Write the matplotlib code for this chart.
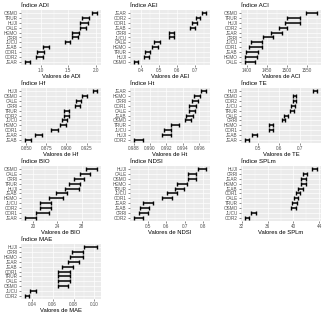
import matplotlib
matplotlib.use('Agg')
import matplotlib.pyplot as plt
from matplotlib.ticker import AutoMinorLocator
import numpy as np

plt.rcParams['font.family'] = ['Liberation Sans', 'DejaVu Sans']

# each index: sites (top to bottom), mean value, half width of the interval
adi_sites = ['OSMO', 'TRUR', 'HUJI', 'CALE', 'HEMO', 'CRRI', 'JUCU', 'JEAB', 'COR1', 'COR2', 'JEAR']
adi_mean = [1.98, 1.81, 1.79, 1.77, 1.63, 1.62, 1.49, 1.10, 1.00, 0.98, 0.76]
adi_err = [0.05, 0.06, 0.07, 0.06, 0.06, 0.05, 0.05, 0.05, 0.06, 0.06, 0.05]

aei_sites = ['JEAR', 'COR2', 'COR1', 'JEAB', 'CRRI', 'JUCU', 'CALE', 'HEMO', 'TRUR', 'HUJI', 'OSMO']
aei_mean = [0.752, 0.718, 0.700, 0.690, 0.572, 0.572, 0.490, 0.480, 0.437, 0.433, 0.374]
aei_err = [0.013, 0.013, 0.014, 0.014, 0.012, 0.012, 0.015, 0.016, 0.015, 0.015, 0.013]

aci_sites = ['OSMO', 'TRUR', 'HUJI', 'COR2', 'JEAR', 'CRRI', 'JUCU', 'COR1', 'JEAB', 'HEMO', 'CALE']
aci_mean = [1561, 1516, 1514, 1490, 1474, 1452, 1424, 1422, 1414, 1410, 1408]
aci_err = [14, 15, 18, 10, 13, 12, 14, 17, 15, 15, 12]

hf_sites = ['HUJI', 'OSMO', 'CALE', 'CRRI', 'TRUR', 'COR2', 'JUCU', 'HEMO', 'COR1', 'JEAR', 'JEAB']
hf_mean = [0.9355, 0.922, 0.915, 0.914, 0.900, 0.900, 0.898, 0.896, 0.885, 0.865, 0.852]
hf_err = [0.0030, 0.0030, 0.0030, 0.0030, 0.0030, 0.0030, 0.0030, 0.0035, 0.0040, 0.0040, 0.0040]

ht_sites = ['JEAR', 'HEMO', 'CRRI', 'COR1', 'CALE', 'JEAB', 'OSMO', 'TRUR', 'JUCU', 'HUJI', 'COR2']
ht_mean = [0.99656, 0.9957, 0.9955, 0.9952, 0.9951, 0.9948, 0.9946, 0.9930, 0.9921, 0.9920, 0.9886]
ht_err = [0.0003, 0.0004, 0.0004, 0.0004, 0.0004, 0.0004, 0.0004, 0.0005, 0.0004, 0.0005, 0.0006]

te_sites = ['HUJI', 'OSMO', 'COR2', 'JUCU', 'TRUR', 'CALE', 'CRRI', 'HEMO', 'COR1', 'JEAB', 'JEAR']
te_mean = [0.771, 0.673, 0.673, 0.665, 0.661, 0.634, 0.621, 0.561, 0.561, 0.484, 0.447]
te_err = [0.010, 0.009, 0.009, 0.009, 0.010, 0.009, 0.009, 0.010, 0.010, 0.010, 0.010]

bio_sites = ['OSMO', 'CALE', 'CRRI', 'TRUR', 'HUJI', 'JEAB', 'HEMO', 'JUCU', 'COR2', 'COR1', 'JEAR']
bio_mean = [29.7, 28.6, 27.6, 26.8, 26.4, 24.7, 23.8, 22.0, 22.0, 21.5, 19.5]
bio_err = [0.9, 0.8, 0.8, 0.9, 1.1, 0.9, 1.1, 0.9, 0.9, 1.1, 0.9]

ndsi_sites = ['HUJI', 'CALE', 'OSMO', 'HEMO', 'TRUR', 'JUCU', 'COR1', 'JEAR', 'JEAB', 'CRRI', 'COR2']
ndsi_mean = [0.796, 0.739, 0.739, 0.686, 0.671, 0.632, 0.605, 0.502, 0.484, 0.475, 0.448]
ndsi_err = [0.022, 0.022, 0.022, 0.025, 0.025, 0.027, 0.027, 0.027, 0.025, 0.025, 0.025]

splm_sites = ['HUJI', 'CRRI', 'JEAR', 'HEMO', 'JEAB', 'COR1', 'CALE', 'TRUR', 'OSMO', 'JUCU', 'COR2']
splm_mean = [43.3, 41.8, 41.6, 41.5, 41.1, 40.7, 40.4, 40.2, 40.0, 33.8, 32.8]
splm_err = [0.4, 0.35, 0.4, 0.4, 0.35, 0.35, 0.35, 0.35, 0.35, 0.35, 0.35]

mae_sites = ['HUJI', 'CRRI', 'HEMO', 'JEAR', 'JEAB', 'COR1', 'TRUR', 'CALE', 'OSMO', 'JUCU', 'COR2']
mae_mean = [0.0963, 0.0838, 0.0830, 0.0800, 0.0740, 0.0710, 0.0710, 0.0710, 0.0700, 0.0410, 0.0350]
mae_err = [0.0065, 0.0050, 0.0060, 0.0050, 0.0050, 0.0055, 0.0055, 0.0055, 0.0050, 0.0030, 0.0020]

panels = [
    ('ADI', adi_sites, adi_mean, adi_err, [1.0, 1.5, 2.0], '%.1f'),
    ('AEI', aei_sites, aei_mean, aei_err, [0.4, 0.5, 0.6, 0.7], '%.1f'),
    ('ACI', aci_sites, aci_mean, aci_err, [1400, 1450, 1500, 1550], '%d'),
    ('Hf', hf_sites, hf_mean, hf_err, [0.850, 0.875, 0.900, 0.925], '%.3f'),
    ('Ht', ht_sites, ht_mean, ht_err, [0.988, 0.990, 0.992, 0.994, 0.996], '%.3f'),
    ('TE', te_sites, te_mean, te_err, [0.5, 0.6, 0.7, 0.8], '%.1f'),
    ('BIO', bio_sites, bio_mean, bio_err, [20, 24, 28], '%d'),
    ('NDSI', ndsi_sites, ndsi_mean, ndsi_err, [0.4, 0.5, 0.6, 0.7, 0.8], '%.1f'),
    ('SPLm', splm_sites, splm_mean, splm_err, [32, 36, 40, 44], '%d'),
    ('MAE', mae_sites, mae_mean, mae_err, [0.04, 0.06, 0.08, 0.10], '%.2f'),
]

W, H = 332, 313
fig = plt.figure(figsize=(W / 100, H / 100), dpi=100)

col_x = [21, 130, 241]
row_y = [10, 88, 166, 244]
aw, ah = 80, 55

for i, (name, sites, mean, err, ticks, fmt) in enumerate(panels):
    r, c = divmod(i, 3)
    ax = fig.add_axes([col_x[c] / W, 1 - (row_y[r] + ah) / H, aw / W, ah / H])
    ax.set_facecolor('#EBEBEB')
    y = np.arange(len(sites))[::-1]
    ax.errorbar(mean, y, xerr=err, fmt='none', ecolor='black', elinewidth=1.1,
                capsize=1.3, capthick=1.0, zorder=3)
    ax.set_yticks(y)
    ax.set_yticklabels(sites)
    ax.set_ylim(-0.6, len(sites) - 0.4)
    ax.set_xticks(ticks)
    ax.set_xticklabels([fmt % t for t in ticks])
    lo = min(m - e for m, e in zip(mean, err))
    hi = max(m + e for m, e in zip(mean, err))
    pad = (hi - lo) * 0.05
    ax.set_xlim(lo - pad, hi + pad)
    ax.xaxis.set_minor_locator(AutoMinorLocator(2))
    ax.grid(which='major', color='white', linewidth=0.5)
    ax.grid(which='minor', axis='x', color='white', linewidth=0.25)
    ax.set_axisbelow(True)
    for s in ax.spines.values():
        s.set_visible(False)
    ax.tick_params(which='major', length=1.2, width=0.4, color='#333333',
                   labelsize=3.3, labelcolor='#4D4D4D', pad=1)
    ax.tick_params(which='minor', length=0)
    ax.set_title('Índice ' + name, fontsize=4.4, loc='left', pad=2)
    ax.set_xlabel('Valores de ' + name, fontsize=4.2, labelpad=1)

fig.savefig('out.png', dpi=100)
